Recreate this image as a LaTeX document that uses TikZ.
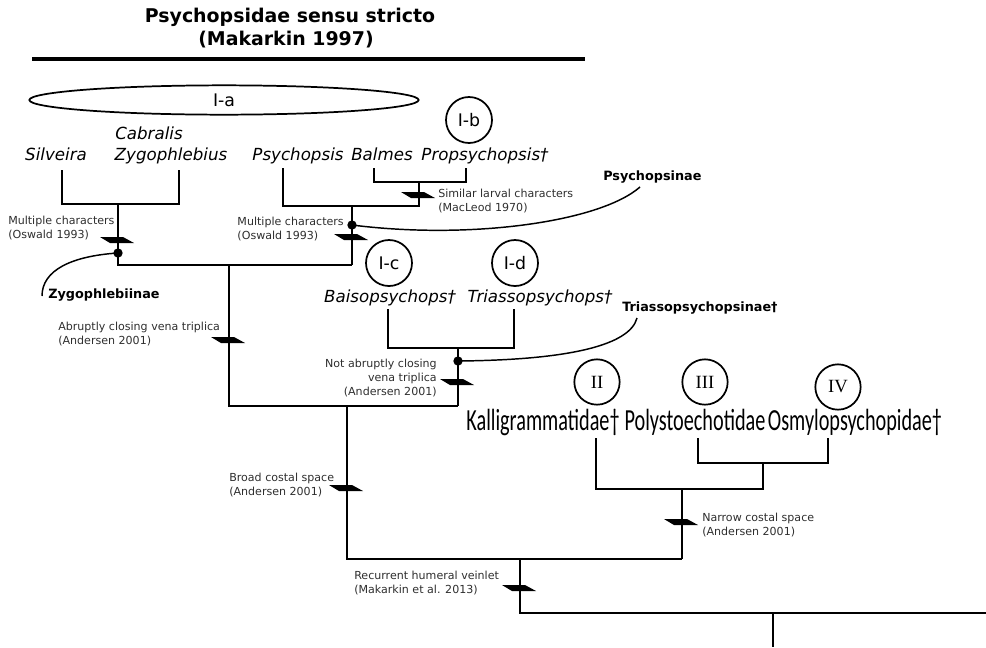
\documentclass[tikz,border=0pt]{standalone}
\usepackage{fontspec}
\usetikzlibrary{shapes.geometric}
\setmainfont{DejaVu Sans}
\newfontfamily\condfont[FakeStretch=0.66]{Carlito}
\newfontfamily\romfont{Liberation Serif}
\begin{document}
\begin{tikzpicture}[x=0.75pt,y=-0.75pt]
\useasboundingbox (0,0) rectangle (986,647);
\tikzset{
  br/.style={line width=1.8pt},
  ann/.style={font=\fontsize{8.3}{10.5}\selectfont, text=black!82, inner sep=0pt},
  taxon/.style={font=\fontsize{12.5}{14}\selectfont\itshape, inner sep=0pt, anchor=base},
  fam/.style={font=\fontsize{23}{26}\selectfont\condfont, inner sep=0pt, anchor=base},
  clade/.style={font=\fontsize{9.6}{11}\selectfont\bfseries, inner sep=0pt},
  circ/.style={circle, draw, line width=1.3pt, minimum size=34.5pt, inner sep=0pt, font=\fontsize{13}{15}\selectfont},
  rcirc/.style={circle, draw, line width=1.3pt, minimum size=34pt, inner sep=0pt, font=\fontsize{14}{16}\selectfont\romfont},
  dotn/.style={circle, fill, inner sep=0pt, minimum size=7pt},
  cv/.style={line width=1.1pt},
  ttl/.style={font=\fontsize{14.2}{17}\selectfont\bfseries, inner sep=0pt, anchor=base},
  syn/.pic={\fill (-18,-3) -- (5,-3) -- (16,3) -- (-8,3) -- cycle;}
}
% title
\node[ttl] (title1) at (290,22) {Psychopsidae sensu stricto};
\node[ttl] (title2) at (286,45) {(Makarkin 1997)};
\coordinate (ruleL) at (32,59);
\coordinate (ruleR) at (585,59);
\draw[line width=3pt] (ruleL) -- (ruleR);
% group circles
\node[ellipse, draw, line width=1.3pt, minimum width=292pt, minimum height=22pt, inner sep=0pt, font=\fontsize{13}{15}\selectfont] (Ia) at (224,100) {I-a};
\node[circ] (Ib) at (469,120) {I-b};
\node[circ] (Ic) at (389,263) {I-c};
\node[circ] (Id) at (515,263) {I-d};
\node[rcirc] (II) at (597,382) {II};
\node[rcirc] (III) at (705,382) {III};
\node[rcirc] (IV) at (838,387) {IV};
% taxa
\node[taxon] (sil) at (56,160) {Silveira};
\node[taxon, anchor=base west] (cab) at (115,139) {Cabralis};
\node[taxon] (zyg) at (171,160) {Zygophlebius};
\node[taxon] (psi) at (298,160) {Psychopsis};
\node[taxon] (bal) at (382,160) {Balmes};
\node[taxon] (pro) at (485,160) {Propsychopsis†};
\node[taxon] (bai) at (390,302) {Baisopsychops†};
\node[taxon] (tri) at (540,302) {Triassopsychops†};
\node[fam] (kal) at (543,430) {Kalligrammatidae†};
\node[fam] (pol) at (695,430) {Polystoechotidae};
\node[fam] (osm) at (855,430) {Osmylopsychopidae†};
% coordinates
\coordinate (s1) at (62,170); \coordinate (s2) at (62,204);
\coordinate (z1) at (179,170); \coordinate (z2) at (179,204);
\coordinate (zj) at (118,204); \coordinate (zb) at (118,265);
\coordinate (p1) at (283,168); \coordinate (p2) at (283,206);
\coordinate (b1) at (374,168); \coordinate (b2) at (374,182);
\coordinate (r1) at (466,168); \coordinate (r2) at (466,182);
\coordinate (bj) at (419,182); \coordinate (bjb) at (419,206);
\coordinate (pj) at (352,206); \coordinate (pjb) at (352,265);
\coordinate (m1) at (229,265); \coordinate (m2) at (229,406);
\coordinate (c1) at (388,309); \coordinate (c2) at (388,348);
\coordinate (t1) at (514,309); \coordinate (t2) at (514,348);
\coordinate (tj) at (458,348); \coordinate (tjb) at (458,406);
\coordinate (n1) at (347,406); \coordinate (n2) at (347,559);
\coordinate (k1) at (596,438); \coordinate (k2) at (596,489);
\coordinate (q1) at (698,438); \coordinate (q2) at (698,463);
\coordinate (o1) at (828,438); \coordinate (o2) at (828,463);
\coordinate (oj) at (763,463); \coordinate (ojb) at (763,489);
\coordinate (kj) at (682,489); \coordinate (kjb) at (682,559);
\coordinate (u1) at (520,559); \coordinate (u2) at (520,613);
\coordinate (edge) at (986,613);
\coordinate (w1) at (773,613); \coordinate (w2) at (773,647);
% branches
\draw[br] (s1) -- (s2) -- (z2) -- (z1);
\draw[br] (zj) -- (zb) -- (pjb);
\draw[br] (p1) -- (p2) -- (bjb) -- (bj);
\draw[br] (b1) -- (b2) -- (r2) -- (r1);
\draw[br] (pj) -- (pjb);
\draw[br] (m1) -- (m2) -- (tjb);
\draw[br] (c1) -- (c2) -- (t2) -- (t1);
\draw[br] (tj) -- (tjb);
\draw[br] (n1) -- (n2) -- (kjb);
\draw[br] (k1) -- (k2) -- (ojb) -- (oj);
\draw[br] (q1) -- (q2) -- (o2) -- (o1);
\draw[br] (kj) -- (kjb);
\draw[br] (u1) -- (u2) -- (edge);
\draw[br] (w1) -- (w2);
% synapomorphy marks
\pic at (118,240) {syn};
\pic at (419,195) {syn};
\pic at (352,237) {syn};
\pic at (229,340) {syn};
\pic at (458,382) {syn};
\pic at (347,488) {syn};
\pic at (682,522) {syn};
\pic at (520,588) {syn};
% dots and clade labels
\node[dotn] (dz) at (118,253) {};
\node[dotn] (dp) at (352,225) {};
\node[dotn] (dt) at (458,361) {};
\node[clade, anchor=west] (zygl) at (48,295) {Zygophlebiinae};
\node[clade, anchor=west] (psyl) at (603,177) {Psychopsinae};
\node[clade, anchor=west] (tril) at (622,308) {Triassopsychopsinae†};
\coordinate (zend) at (42,296);
\coordinate (pend) at (640,187);
\coordinate (tend) at (637,318);
\draw[cv] (dz.center) .. controls (72,256) and (42,270) .. (zend);
\draw[cv] (dp.center) .. controls (470,240) and (600,222) .. (pend);
\draw[cv] (dt.center) .. controls (570,360) and (630,345) .. (tend);
% annotations
\node[ann, anchor=west, align=left] (a1) at (8,228) {Multiple characters\\(Oswald 1993)};
\node[ann, anchor=east, align=left] (a2) at (344,229) {Multiple characters\\(Oswald 1993)};
\node[ann, anchor=west, align=left] (a3) at (438,201) {Similar larval characters\\(MacLeod 1970)};
\node[ann, anchor=west, align=left] (a4) at (58,334) {Abruptly closing vena triplica\\(Andersen 2001)};
\node[ann, anchor=east, align=right] (a5) at (437,378) {Not abruptly closing\\vena triplica\\(Andersen 2001)};
\node[ann, anchor=west, align=left] (a6) at (229,485) {Broad costal space\\(Andersen 2001)};
\node[ann, anchor=west, align=left] (a7) at (702,525) {Narrow costal space\\(Andersen 2001)};
\node[ann, anchor=west, align=left] (a8) at (354,583) {Recurrent humeral veinlet\\(Makarkin et al. 2013)};
\end{tikzpicture}
\end{document}
